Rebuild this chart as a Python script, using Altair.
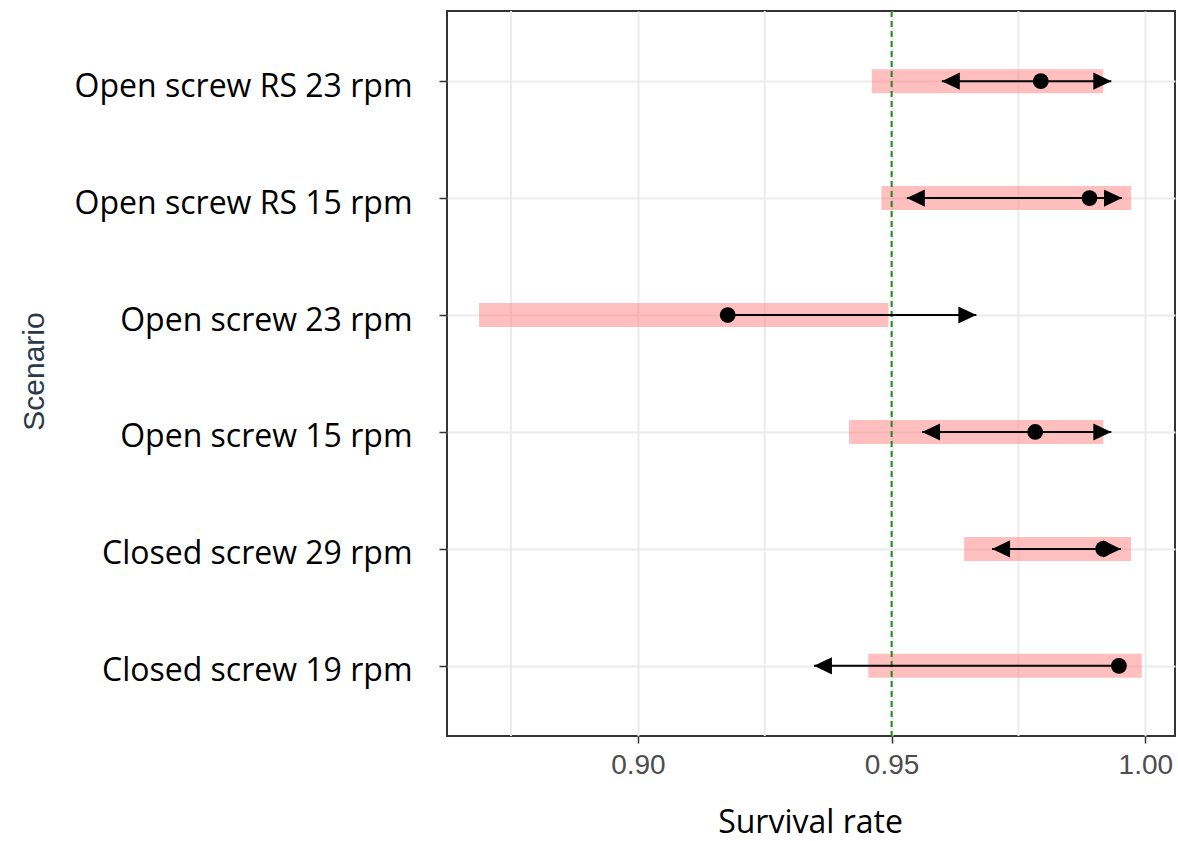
import altair as alt
import pandas as pd

# Scenarios, top to bottom
scenarios = ["Open screw RS 23 rpm", "Open screw RS 15 rpm", "Open screw 23 rpm",
             "Open screw 15 rpm", "Closed screw 29 rpm", "Closed screw 19 rpm"]
estimate = [0.9794, 0.9890, 0.9177, 0.9783, 0.9917, 0.9948]
arrow_low = [0.9599, 0.9530, None, 0.9560, 0.9698, 0.9347]
arrow_high = [0.9933, 0.9954, 0.9667, 0.9933, 0.9952, None]
band_low = [0.9461, 0.9480, 0.8687, 0.9416, 0.9643, 0.9454]
band_high = [0.9917, 0.9972, 0.9494, 0.9917, 0.9972, 0.9993]
threshold = [0.95]
major_ticks = [0.90, 0.95, 1.00]
minor_grid = [0.875, 0.925, 0.975]

df = pd.DataFrame({
    "scenario": scenarios, "est": estimate, "lo": arrow_low, "hi": arrow_high,
    "blo": band_low, "bhi": band_high,
})
df["seg_start"] = df["lo"].fillna(df["est"])
df["seg_end"] = df["hi"].fillna(df["est"])

xscale = alt.Scale(domain=[0.86238, 1.00585], nice=False, zero=False)
yscale = alt.Scale(type="point", padding=0.6)

base = alt.Chart(df)

y_enc = alt.Y("scenario:N", sort=scenarios, scale=yscale,
              axis=alt.Axis(title="Scenario", labelFont="Open Sans", labelFontSize=32,
                            labelColor="black", labelPadding=27, labelLimit=0,
                            labelBaseline="alphabetic", labelOffset=15, tickSize=8,
                            tickColor="#333333", tickWidth=1.5, domain=False, grid=True,
                            gridColor="#ebebeb", gridWidth=2,
                            titleFont="Liberation Sans", titleFontSize=30,
                            titleFontWeight="normal", titleColor="#2b3a4a",
                            titleX=-404, titleY=360, titleAngle=270,
                            titleBaseline="alphabetic", titleAlign="center"))

minor = alt.Chart(pd.DataFrame({"g": minor_grid})).mark_rule(
    color="#ebebeb", strokeWidth=2).encode(x=alt.X("g:Q", scale=xscale))

band = base.mark_rule(color="#ff8080", opacity=0.5, strokeWidth=24, strokeCap="butt").encode(
    x=alt.X("blo:Q", scale=xscale,
            axis=alt.Axis(title="Survival rate", values=major_ticks, format=".2f",
                          labelFont="Liberation Sans", labelFontSize=28, labelColor="#4d4d4d",
                          labelBaseline="alphabetic", labelPadding=30, tickSize=7,
                          tickColor="#333333", tickWidth=1.5, domain=False,
                          grid=True, gridColor="#ebebeb", gridWidth=2,
                          titleFont="Open Sans", titleFontSize=32, titleFontWeight="normal",
                          titleColor="black", titleX=363, titleY=96,
                          titleBaseline="alphabetic", titleAlign="center")),
    x2="bhi:Q",
    y=y_enc,
)

vline = alt.Chart(pd.DataFrame({"t": threshold})).mark_rule(
    color="#1f8a1f", strokeWidth=2, strokeDash=[6, 4]).encode(x=alt.X("t:Q", scale=xscale))

seg = base.mark_rule(color="black", strokeWidth=2).encode(
    x=alt.X("seg_start:Q", scale=xscale), x2="seg_end:Q",
    y=alt.Y("scenario:N", sort=scenarios, scale=yscale))

left_arrows = base.transform_filter("isValid(datum.lo)").mark_point(
    shape="M-1,0L1,-0.95L1,0.95Z", filled=True, color="black", opacity=1, size=324,
    xOffset=9).encode(
    x=alt.X("lo:Q", scale=xscale), y=alt.Y("scenario:N", sort=scenarios, scale=yscale))

right_arrows = base.transform_filter("isValid(datum.hi)").mark_point(
    shape="M1,0L-1,-0.95L-1,0.95Z", filled=True, color="black", opacity=1, size=324,
    xOffset=-9).encode(
    x=alt.X("hi:Q", scale=xscale), y=alt.Y("scenario:N", sort=scenarios, scale=yscale))

pts = base.mark_point(shape="circle", filled=True, color="black", opacity=1, size=250).encode(
    x=alt.X("est:Q", scale=xscale), y=alt.Y("scenario:N", sort=scenarios, scale=yscale))

chart = alt.layer(minor, band, vline, seg, left_arrows, right_arrows, pts).properties(
    width=728, height=725,
    background="white",
    autosize=alt.AutoSizeParams(type="none"),
    padding={"left": 447, "top": 11, "right": 3, "bottom": 105},
).configure_view(stroke="#333333", strokeWidth=2)

chart.save("out.html", embed_options={"renderer": "svg", "actions": False})
